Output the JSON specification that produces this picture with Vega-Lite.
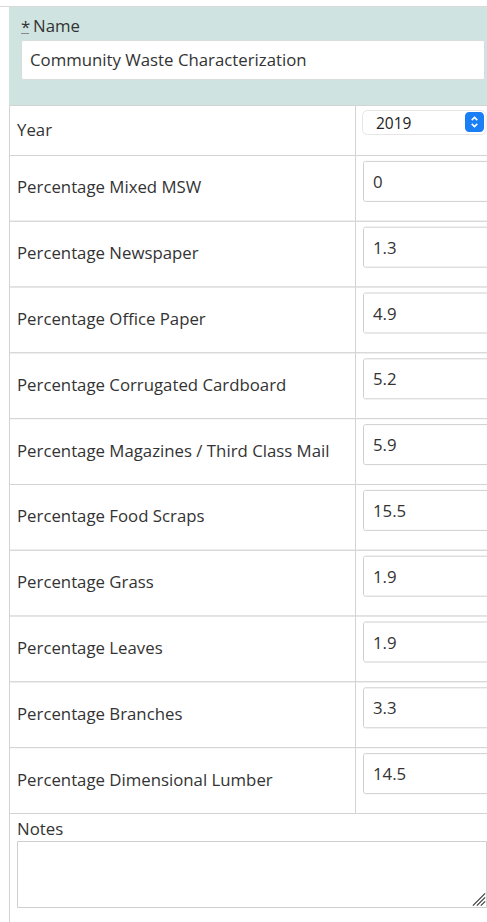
{
  "$schema": "https://vega.github.io/schema/vega-lite/v6.json",
  "width": 487,
  "height": 922,
  "autosize": "none",
  "padding": 0,
  "background": "white",
  "config": {"view": {"stroke": null}, "font": "Open Sans", "text": {"font": "Open Sans", "fontSize": 16.8, "color": "#333333", "baseline": "middle", "align": "left", "dy": 1}},
  "datasets": {
    "name": [{"label": "Name", "value": "Community Waste Characterization"}],
    "year": [{"label": "Year", "value": "2019"}],
    "pct": [
      {"label": "Percentage Mixed MSW", "value": "0"},
      {"label": "Percentage Newspaper", "value": "1.3"},
      {"label": "Percentage Office Paper", "value": "4.9"},
      {"label": "Percentage Corrugated Cardboard", "value": "5.2"},
      {"label": "Percentage Magazines / Third Class Mail", "value": "5.9"},
      {"label": "Percentage Food Scraps", "value": "15.5"},
      {"label": "Percentage Grass", "value": "1.9"},
      {"label": "Percentage Leaves", "value": "1.9"},
      {"label": "Percentage Branches", "value": "3.3"},
      {"label": "Percentage Dimensional Lumber", "value": "14.5"}
    ],
    "notes": [{"label": "Notes", "value": ""}]
  },
  "layer": [
    {"data": {"name": "name"}, "mark": {"type": "rect", "x": 9, "x2": 490, "y": 7, "y2": 105, "fill": "#cfe3e0"}, "encoding": {}},
    {"data": {"name": "name"}, "mark": {"type": "rect", "x": 0, "x2": 490, "y": 6, "y2": 7, "fill": "#d9d9d9"}, "encoding": {}},
    {"data": {"name": "name"}, "mark": {"type": "text", "x": 21, "y": 27}, "encoding": {"text": {"value": "*"}}},
    {"data": {"name": "name"}, "mark": {"type": "rect", "x": 21, "x2": 29, "y": 33, "y2": 34, "fill": "#888888"}, "encoding": {}},
    {"data": {"name": "name"}, "mark": {"type": "text", "x": 33, "y": 26}, "encoding": {"text": {"field": "label"}}},
    {"data": {"name": "name"}, "mark": {"type": "rect", "x": 21.5, "x2": 484.5, "y": 40.5, "y2": 79.5, "fill": "white", "stroke": "#d8dcdb", "strokeWidth": 1, "cornerRadius": 2}, "encoding": {}},
    {"data": {"name": "name"}, "mark": {"type": "text", "x": 30, "y": 60}, "encoding": {"text": {"field": "value"}}},

    {"data": {"name": "year"}, "mark": {"type": "rect", "x": 9.5, "x2": 355.5, "y": 105.5, "y2": 155.5, "fill": "white", "stroke": "#d3d3d3", "strokeWidth": 1}, "encoding": {}},
    {"data": {"name": "year"}, "mark": {"type": "rect", "x": 355.5, "x2": 490, "y": 105.5, "y2": 155.5, "fill": "white", "stroke": "#d3d3d3", "strokeWidth": 1}, "encoding": {}},
    {"data": {"name": "year"}, "mark": {"type": "text", "x": 17, "y": 130}, "encoding": {"text": {"field": "label"}}},
    {"data": {"name": "year"}, "mark": {"type": "rect", "x": 362.5, "x2": 486, "y": 110.5, "y2": 134.5, "fill": "white", "stroke": "#e6e6e6", "strokeWidth": 1, "cornerRadius": 5}, "encoding": {}},
    {"data": {"name": "year"}, "mark": {"type": "text", "x": 376, "y": 123, "fontSize": 15.5, "color": "#222222"}, "encoding": {"text": {"field": "value"}}},
    {"data": {"name": "year"}, "mark": {"type": "rect", "x": 465, "x2": 484, "y": 112, "y2": 132, "fill": "#1a7ff5", "cornerRadius": 4}, "encoding": {}},
    {"data": {"name": "year"}, "mark": {"type": "point", "x": 474.5, "y": 118.5, "shape": "M-1,0.6L0,-0.4L1,0.6", "filled": false, "stroke": "white", "strokeWidth": 1.6, "size": 30, "opacity": 1}, "encoding": {}},
    {"data": {"name": "year"}, "mark": {"type": "point", "x": 474.5, "y": 125.5, "shape": "M-1,-0.6L0,0.4L1,-0.6", "filled": false, "stroke": "white", "strokeWidth": 1.6, "size": 30, "opacity": 1}, "encoding": {}},

    {"data": {"name": "pct"}, "mark": {"type": "rect", "x": 9.5, "x2": 355.5, "fill": "white", "stroke": "#d3d3d3", "strokeWidth": 1},
     "encoding": {"y": {"field": "label", "type": "nominal", "sort": null, "axis": null, "scale": {"range": [155.5, 813.5], "paddingInner": 0, "paddingOuter": 0}}}},
    {"data": {"name": "pct"}, "mark": {"type": "rect", "x": 355.5, "x2": 490, "fill": "white", "stroke": "#d3d3d3", "strokeWidth": 1},
     "encoding": {"y": {"field": "label", "type": "nominal", "sort": null, "axis": null}}},
    {"data": {"name": "pct"}, "mark": {"type": "bar", "x": 363.5, "x2": 492, "height": 40, "yOffset": -7, "fill": "white", "stroke": "#cfcfcf", "strokeWidth": 1, "cornerRadius": 2},
     "encoding": {"y": {"field": "label", "type": "nominal", "sort": null, "axis": null}}},
    {"data": {"name": "pct"}, "mark": {"type": "text", "x": 17, "dy": 0},
     "encoding": {"y": {"field": "label", "type": "nominal", "sort": null, "axis": null}, "text": {"field": "label"}}},
    {"data": {"name": "pct"}, "mark": {"type": "text", "x": 373, "dy": -5.5},
     "encoding": {"y": {"field": "label", "type": "nominal", "sort": null, "axis": null}, "text": {"field": "value"}}},

    {"data": {"name": "notes"}, "mark": {"type": "rect", "x": 9, "x2": 10, "y": 813, "y2": 922, "fill": "#d3d3d3"}, "encoding": {}},
    {"data": {"name": "notes"}, "mark": {"type": "text", "x": 17, "y": 829}, "encoding": {"text": {"field": "label"}}},
    {"data": {"name": "notes"}, "mark": {"type": "rect", "x": 17.5, "x2": 486.5, "y": 841.5, "y2": 907.5, "fill": "white", "stroke": "#cfcfcf", "strokeWidth": 1}, "encoding": {}},
    {"data": {"name": "notes"}, "mark": {"type": "point", "x": 479, "y": 899.5, "shape": "M1,-1L-1,1M1,-0.35L-0.35,1M1,0.3L0.3,1", "filled": false, "stroke": "#444444", "strokeWidth": 1.3, "size": 150, "opacity": 1}, "encoding": {}}
  ]
}
